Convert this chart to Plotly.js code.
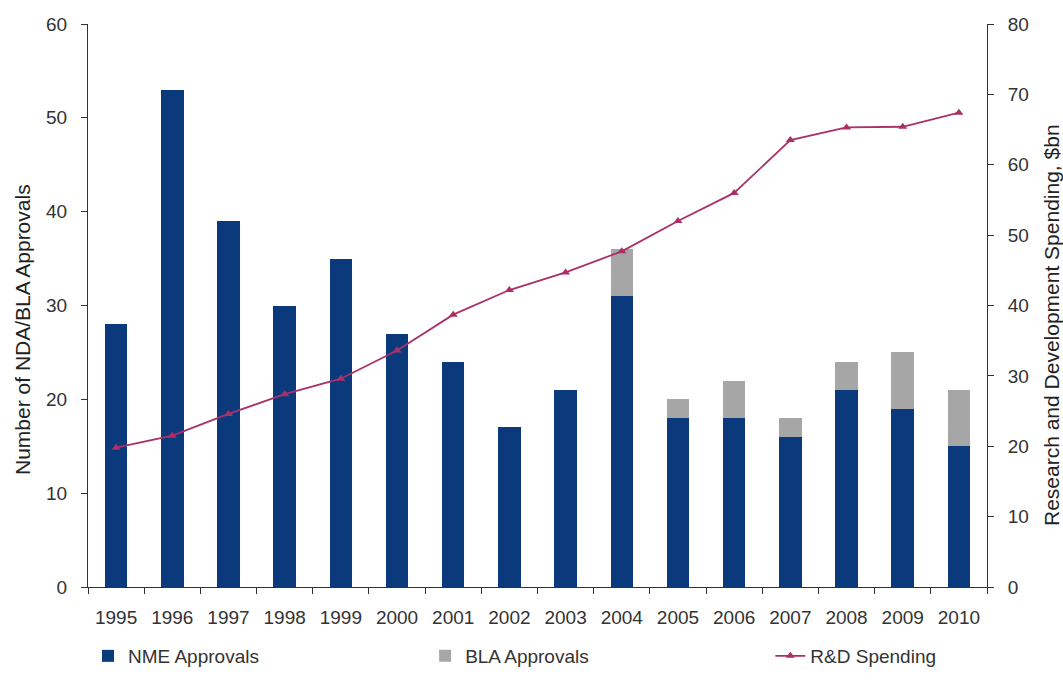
<!DOCTYPE html>
<html>
<head>
<meta charset="utf-8">
<script src="https://cdn.plot.ly/plotly-3.0.1.min.js"></script>
<style>html,body{margin:0;padding:0;background:#fff;}#chart{width:1063px;height:681px;}</style>
</head>
<body>
<div id="chart"></div>
<script>
const years = ['1995','1996','1997','1998','1999','2000','2001','2002','2003','2004','2005','2006','2007','2008','2009','2010'];
const nmeApprovals = [28, 53, 39, 30, 35, 27, 24, 17, 21, 31, 18, 18, 16, 21, 19, 15];
const blaApprovals = [0, 0, 0, 0, 0, 0, 0, 0, 0, 5, 2, 4, 2, 3, 6, 6];
const rdSpending = [19.8, 21.5, 24.6, 27.4, 29.6, 33.6, 38.7, 42.2, 44.7, 47.7, 52, 56, 63.5, 65.3, 65.4, 67.4];
const leftTitle = 'Number of NDA/BLA Approvals';
const rightTitle = 'Research and Development Spending, $bn';

const fam = 'Liberation Sans, Arial, sans-serif';
const tickFont = {family: fam, size: 19, color: '#333'};
const legFont = {family: fam, size: 19, color: '#333'};
const titleFont = {family: fam, size: 21, color: '#222'};

const traces = [
  {type: 'bar', name: 'NME Approvals', x: years, y: nmeApprovals, marker: {color: '#0b3a7c'}, yaxis: 'y', legend: 'legend'},
  {type: 'bar', name: 'BLA Approvals', x: years, y: blaApprovals, marker: {color: '#a6a6a6'}, yaxis: 'y', legend: 'legend2'},
  {type: 'scatter', mode: 'lines+markers', name: 'R&D Spending', x: years, y: rdSpending, yaxis: 'y2', legend: 'legend3',
   line: {color: '#aa3068', width: 1.8}, marker: {symbol: 'triangle-up', size: 8, color: '#aa3068'}}
];

const legBase = {orientation: 'h', yref: 'container', yanchor: 'top', xanchor: 'left', y: 0.0646, font: legFont, bgcolor: 'rgba(0,0,0,0)'};

const layout = {
  width: 1063, height: 681,
  margin: {l: 88, r: 76, t: 24, b: 94},
  paper_bgcolor: '#fff', plot_bgcolor: '#fff',
  barmode: 'stack', bargap: 0.6,
  showlegend: true,
  legend: Object.assign({}, legBase, {x: 0.0}),
  legend2: Object.assign({}, legBase, {x: 0.375}),
  legend3: Object.assign({}, legBase, {x: 0.759}),
  xaxis: {type: 'category', range: [-0.5, 15.5], tickfont: tickFont, showline: true, linecolor: '#333', linewidth: 1,
          ticks: 'outside', ticklen: 6, tickcolor: '#333', tickson: 'boundaries', showgrid: false, zeroline: false,
          ticklabelstandoff: 13, automargin: false},
  yaxis: {range: [0, 60], dtick: 10, tickfont: tickFont, showline: true, linecolor: '#333', linewidth: 1,
          ticks: 'outside', ticklen: 6, tickcolor: '#333', showgrid: false, zeroline: false, ticklabelstandoff: 10, automargin: false},
  yaxis2: {range: [0, 80], dtick: 10, overlaying: 'y', side: 'right', tickfont: tickFont, showline: true, linecolor: '#333', linewidth: 1,
           ticks: 'outside', ticklen: 6, tickcolor: '#333', showgrid: false, zeroline: false, ticklabelstandoff: 10, automargin: false},
  annotations: [
    {text: leftTitle, xref: 'paper', yref: 'paper', x: -0.0723, y: 0.4565, textangle: -90, showarrow: false,
     xanchor: 'center', yanchor: 'middle', font: titleFont},
    {text: rightTitle, xref: 'paper', yref: 'paper', x: 1.071, y: 0.465, textangle: -90, showarrow: false,
     xanchor: 'center', yanchor: 'middle', font: titleFont}
  ]
};

Plotly.newPlot('chart', traces, layout, {displayModeBar: false, responsive: false});
</script>
</body>
</html>
